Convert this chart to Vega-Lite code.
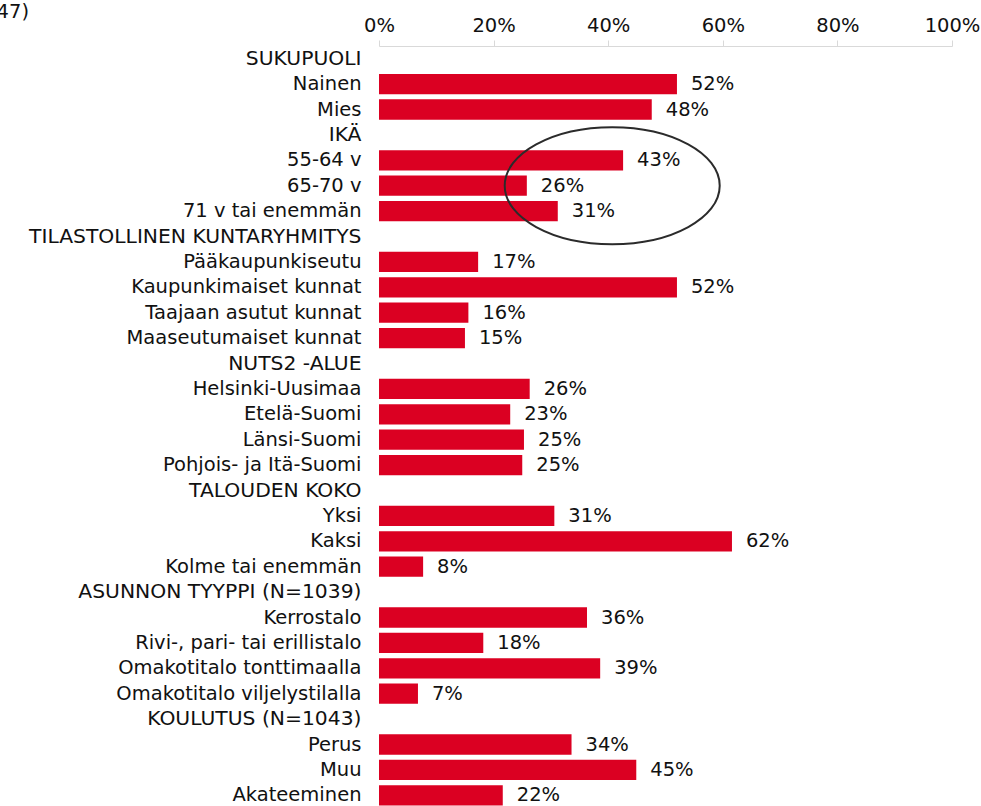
{
  "$schema": "https://vega.github.io/schema/vega-lite/v6.json",
  "width": 573,
  "height": 762,
  "autosize": {"type": "none"},
  "padding": {"left": 379, "top": 46, "right": 29, "bottom": 0},
  "background": "white",
  "title": {
    "text": "(N=1047)",
    "anchor": "start",
    "align": "right",
    "frame": "group",
    "dx": -350,
    "dy": 11,
    "fontSize": 19.5,
    "fontWeight": "normal",
    "font": "DejaVu Sans",
    "color": "#111111"
  },
  "config": {
    "view": {"stroke": null},
    "font": "DejaVu Sans",
    "axis": {"labelFont": "DejaVu Sans", "labelColor": "#111111", "labelFontSize": 19.5}
  },
  "layer": [
    {
      "data": {
        "values": [
          {"label": "SUKUPUOLI", "value": null},
          {"label": "Nainen", "value": 0.520},
          {"label": "Mies", "value": 0.476},
          {"label": "IKÄ", "value": null},
          {"label": "55-64 v", "value": 0.426},
          {"label": "65-70 v", "value": 0.258},
          {"label": "71 v tai enemmän", "value": 0.312},
          {"label": "TILASTOLLINEN KUNTARYHMITYS", "value": null},
          {"label": "Pääkaupunkiseutu", "value": 0.173},
          {"label": "Kaupunkimaiset kunnat", "value": 0.520},
          {"label": "Taajaan asutut kunnat", "value": 0.156},
          {"label": "Maaseutumaiset kunnat", "value": 0.150},
          {"label": "NUTS2 -ALUE", "value": null},
          {"label": "Helsinki-Uusimaa", "value": 0.263},
          {"label": "Etelä-Suomi", "value": 0.229},
          {"label": "Länsi-Suomi", "value": 0.253},
          {"label": "Pohjois- ja Itä-Suomi", "value": 0.250},
          {"label": "TALOUDEN KOKO", "value": null},
          {"label": "Yksi", "value": 0.306},
          {"label": "Kaksi", "value": 0.616},
          {"label": "Kolme tai enemmän", "value": 0.077},
          {"label": "ASUNNON TYYPPI (N=1039)", "value": null},
          {"label": "Kerrostalo", "value": 0.363},
          {"label": "Rivi-, pari- tai erillistalo", "value": 0.182},
          {"label": "Omakotitalo tonttimaalla", "value": 0.386},
          {"label": "Omakotitalo viljelystilalla", "value": 0.068},
          {"label": "KOULUTUS (N=1043)", "value": null},
          {"label": "Perus", "value": 0.336},
          {"label": "Muu", "value": 0.449},
          {"label": "Akateeminen", "value": 0.216}
        ]
      },
      "encoding": {
        "y": {
          "field": "label",
          "type": "nominal",
          "sort": null,
          "title": null,
          "scale": {
            "domain": ["SUKUPUOLI", "Nainen", "Mies", "IKÄ", "55-64 v", "65-70 v", "71 v tai enemmän", "TILASTOLLINEN KUNTARYHMITYS", "Pääkaupunkiseutu", "Kaupunkimaiset kunnat", "Taajaan asutut kunnat", "Maaseutumaiset kunnat", "NUTS2 -ALUE", "Helsinki-Uusimaa", "Etelä-Suomi", "Länsi-Suomi", "Pohjois- ja Itä-Suomi", "TALOUDEN KOKO", "Yksi", "Kaksi", "Kolme tai enemmän", "ASUNNON TYYPPI (N=1039)", "Kerrostalo", "Rivi-, pari- tai erillistalo", "Omakotitalo tonttimaalla", "Omakotitalo viljelystilalla", "KOULUTUS (N=1043)", "Perus", "Muu", "Akateeminen"],
            "paddingInner": 0.2,
            "paddingOuter": 0.1
          },
          "axis": {
            "ticks": false,
            "domain": false,
            "labelPadding": 18,
            "labelLimit": 400,
            "labelFontSize": {"condition": {"test": "upper(datum.value) == datum.value", "value": 20.3}, "value": 19.5}
          }
        },
        "x": {
          "field": "value",
          "type": "quantitative",
          "title": null,
          "scale": {"domain": [0, 1], "nice": false},
          "axis": {
            "orient": "top",
            "values": [0, 0.2, 0.4, 0.6, 0.8, 1],
            "format": ".0%",
            "labelFlush": false,
            "grid": false,
            "domainColor": "#d9d9d9",
            "tickColor": "#d9d9d9",
            "tickSize": 6,
            "labelPadding": 5
          }
        }
      },
      "layer": [
        {"mark": {"type": "bar", "color": "#DB0022"}},
        {
          "transform": [{"filter": "datum.value != null"}],
          "mark": {"type": "text", "align": "left", "baseline": "middle", "dx": 14, "fontSize": 19.5, "color": "#111111"},
          "encoding": {"text": {"field": "value", "type": "quantitative", "format": ".0%"}}
        }
      ]
    },
    {
      "data": {"values": [{"label": "65-70 v", "value": 0.407}]},
      "mark": {
        "type": "point",
        "shape": "M 1 0 C 1 0.3005 0.5523 0.544 0 0.544 C -0.5523 0.544 -1 0.3005 -1 0 C -1 -0.3005 -0.5523 -0.544 0 -0.544 C 0.5523 -0.544 1 -0.3005 1 0 Z",
        "size": 46225,
        "filled": false,
        "stroke": "#2b2b2b",
        "strokeWidth": 2,
        "opacity": 1
      },
      "encoding": {
        "x": {"field": "value", "type": "quantitative"},
        "y": {"field": "label", "type": "nominal", "sort": null}
      }
    }
  ]
}
